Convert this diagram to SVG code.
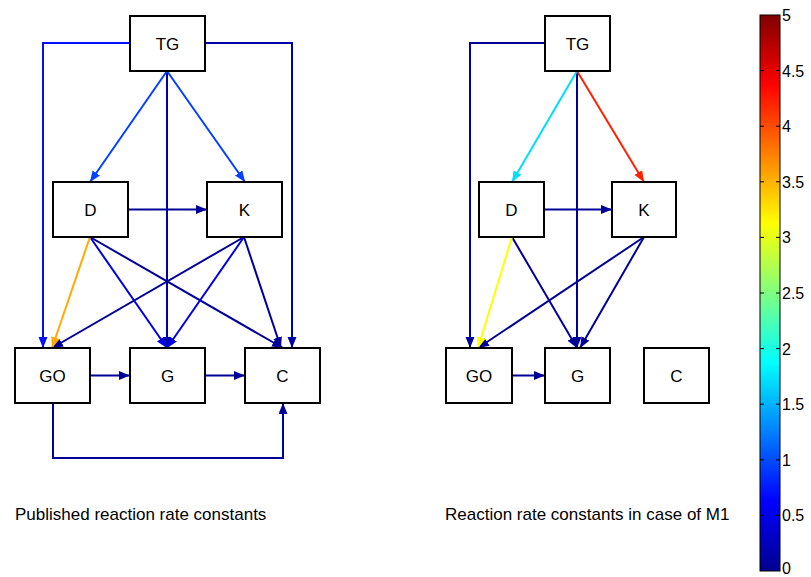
<svg xmlns="http://www.w3.org/2000/svg" width="811" height="577" viewBox="0 0 811 577">
  <style>
    .box { fill: #ffffff; stroke: #000000; stroke-width: 2; }
    .lbl { font-family: "Liberation Sans", Arial, sans-serif; font-size: 17px; fill: #000000; text-anchor: middle; }
    .cap { font-family: "Liberation Sans", Arial, sans-serif; font-size: 17px; fill: #000000; }
    .tick { font-family: "Liberation Sans", Arial, sans-serif; font-size: 16px; fill: #000000; }
    .c { fill: none; stroke-width: 2; }
    .dk { stroke: #000099; }
    .md { stroke: #0000e0; }
    .br { stroke: #0040ff; }
    .bb { stroke: #0010ff; }
    .dv { stroke: #0000a8; }
    .or { stroke: #ffaa00; }
    .ye { stroke: #ffff00; }
    .cy { stroke: #00ddff; }
    .rd { stroke: #ff2000; }
  </style>
  <defs>
    <marker id="a-dk" markerUnits="userSpaceOnUse" markerWidth="12" markerHeight="10" refX="11" refY="4.5" orient="auto"><path d="M0,0 L11,4.5 L0,9 z" fill="#000099"/></marker>
    <marker id="a-md" markerUnits="userSpaceOnUse" markerWidth="12" markerHeight="10" refX="11" refY="4.5" orient="auto"><path d="M0,0 L11,4.5 L0,9 z" fill="#0000e0"/></marker>
    <marker id="a-br" markerUnits="userSpaceOnUse" markerWidth="12" markerHeight="10" refX="11" refY="4.5" orient="auto"><path d="M0,0 L11,4.5 L0,9 z" fill="#0040ff"/></marker>
    <marker id="a-bb" markerUnits="userSpaceOnUse" markerWidth="12" markerHeight="10" refX="11" refY="4.5" orient="auto"><path d="M0,0 L11,4.5 L0,9 z" fill="#0010ff"/></marker>
    <marker id="a-dv" markerUnits="userSpaceOnUse" markerWidth="12" markerHeight="10" refX="11" refY="4.5" orient="auto"><path d="M0,0 L11,4.5 L0,9 z" fill="#0000a8"/></marker>
    <marker id="a-or" markerUnits="userSpaceOnUse" markerWidth="12" markerHeight="10" refX="11" refY="4.5" orient="auto"><path d="M0,0 L11,4.5 L0,9 z" fill="#ffaa00"/></marker>
    <marker id="a-ye" markerUnits="userSpaceOnUse" markerWidth="12" markerHeight="10" refX="11" refY="4.5" orient="auto"><path d="M0,0 L11,4.5 L0,9 z" fill="#ffff00"/></marker>
    <marker id="a-cy" markerUnits="userSpaceOnUse" markerWidth="12" markerHeight="10" refX="11" refY="4.5" orient="auto"><path d="M0,0 L11,4.5 L0,9 z" fill="#00ddff"/></marker>
    <marker id="a-rd" markerUnits="userSpaceOnUse" markerWidth="12" markerHeight="10" refX="11" refY="4.5" orient="auto"><path d="M0,0 L11,4.5 L0,9 z" fill="#ff2000"/></marker>
    <linearGradient id="jet" x1="0" y1="1" x2="0" y2="0">
      <stop offset="0" stop-color="#00008f"/>
      <stop offset="0.125" stop-color="#0000ff"/>
      <stop offset="0.375" stop-color="#00ffff"/>
      <stop offset="0.625" stop-color="#ffff00"/>
      <stop offset="0.875" stop-color="#ff0000"/>
      <stop offset="1" stop-color="#800000"/>
    </linearGradient>
  </defs>

  <!-- connectors: published constants -->
  <g id="connectors-left">
    <path class="c bb" d="M130,43 H43 V348" marker-end="url(#a-bb)"/>
    <path class="c dv" d="M205,43 H292 V348" marker-end="url(#a-dv)"/>
    <path class="c dv" d="M167,71 V348" marker-end="url(#a-dv)"/>
    <path class="c br" d="M167,71 L90,182" marker-end="url(#a-br)"/>
    <path class="c br" d="M167,71 L245,182" marker-end="url(#a-br)"/>
    <path class="c dk" d="M128,209.5 H207" marker-end="url(#a-dk)"/>
    <path class="c dk" d="M90,237 L283,348" marker-end="url(#a-dk)"/>
    <path class="c dk" d="M244,237 L52,348" marker-end="url(#a-dk)"/>
    <path class="c dk" d="M244,237 L281,348" marker-end="url(#a-dk)"/>
    <path class="c md" d="M90,237 L167,348" marker-end="url(#a-md)"/>
    <path class="c md" d="M244,237 L167,348" marker-end="url(#a-md)"/>
    <path class="c or" d="M90,237 L52,348" marker-end="url(#a-or)"/>
    <path class="c dk" d="M90,375.5 H130" marker-end="url(#a-dk)"/>
    <path class="c dk" d="M205,375.5 H245" marker-end="url(#a-dk)"/>
    <path class="c dk" d="M53,403 V458 H283 V403" marker-end="url(#a-dk)"/>
  </g>

  <!-- connectors: model M1 -->
  <g id="connectors-right">
    <path class="c dk" d="M545,43 H470 V348" marker-end="url(#a-dk)"/>
    <path class="c dk" d="M577,71 V348" marker-end="url(#a-dk)"/>
    <path class="c cy" d="M577,71 L512,182" marker-end="url(#a-cy)"/>
    <path class="c rd" d="M577,71 L644,182" marker-end="url(#a-rd)"/>
    <path class="c dk" d="M544,209.5 H612" marker-end="url(#a-dk)"/>
    <path class="c dk" d="M512,237 L577,348" marker-end="url(#a-dk)"/>
    <path class="c dk" d="M644,237 L478,348" marker-end="url(#a-dk)"/>
    <path class="c dk" d="M644,237 L580,348" marker-end="url(#a-dk)"/>
    <path class="c ye" d="M512,237 L478,348" marker-end="url(#a-ye)"/>
    <path class="c dk" d="M512,375.5 H545" marker-end="url(#a-dk)"/>
  </g>

  <!-- nodes: published constants -->
  <g id="L-TG"><rect class="box" x="130" y="16" width="75" height="55"/><text class="lbl" x="167.5" y="49.5">TG</text></g>
  <g id="L-D"><rect class="box" x="53" y="182" width="75" height="55"/><text class="lbl" x="90.5" y="215.5">D</text></g>
  <g id="L-K"><rect class="box" x="207" y="182" width="75" height="55"/><text class="lbl" x="244.5" y="215.5">K</text></g>
  <g id="L-GO"><rect class="box" x="15" y="348" width="75" height="55"/><text class="lbl" x="52.5" y="381.5">GO</text></g>
  <g id="L-G"><rect class="box" x="130" y="348" width="75" height="55"/><text class="lbl" x="167.5" y="381.5">G</text></g>
  <g id="L-C"><rect class="box" x="245" y="348" width="75" height="55"/><text class="lbl" x="282.5" y="381.5">C</text></g>

  <!-- nodes: model M1 -->
  <g id="R-TG"><rect class="box" x="545" y="16" width="65" height="55"/><text class="lbl" x="577.5" y="49.5">TG</text></g>
  <g id="R-D"><rect class="box" x="479" y="182" width="65" height="55"/><text class="lbl" x="511.5" y="215.5">D</text></g>
  <g id="R-K"><rect class="box" x="612" y="182" width="64" height="55"/><text class="lbl" x="644" y="215.5">K</text></g>
  <g id="R-GO"><rect class="box" x="446" y="348" width="66" height="55"/><text class="lbl" x="479" y="381.5">GO</text></g>
  <g id="R-G"><rect class="box" x="545" y="348" width="65" height="55"/><text class="lbl" x="577.5" y="381.5">G</text></g>
  <g id="R-C"><rect class="box" x="644" y="348" width="65" height="55"/><text class="lbl" x="676.5" y="381.5">C</text></g>

  <!-- captions -->
  <text class="cap" x="15" y="520">Published reaction rate constants</text>
  <text class="cap" x="445" y="520">Reaction rate constants in case of M1</text>

  <!-- colour bar -->
  <g id="colorbar">
    <rect x="760" y="15" width="20" height="556" fill="url(#jet)" stroke="#000000" stroke-width="1"/>
    <g stroke="#000000" stroke-width="1">
      <path d="M760,70.6 h4 M776,70.6 h4 M760,126.2 h4 M776,126.2 h4 M760,181.8 h4 M776,181.8 h4 M760,237.4 h4 M776,237.4 h4 M760,293 h4 M776,293 h4 M760,348.6 h4 M776,348.6 h4 M760,404.2 h4 M776,404.2 h4 M760,459.8 h4 M776,459.8 h4 M760,515.4 h4 M776,515.4 h4"/>
    </g>
    <text class="tick" x="782" y="21">5</text>
    <text class="tick" x="782" y="76.6">4.5</text>
    <text class="tick" x="782" y="132.2">4</text>
    <text class="tick" x="782" y="187.8">3.5</text>
    <text class="tick" x="782" y="243.4">3</text>
    <text class="tick" x="782" y="299">2.5</text>
    <text class="tick" x="782" y="354.6">2</text>
    <text class="tick" x="782" y="410.2">1.5</text>
    <text class="tick" x="782" y="465.8">1</text>
    <text class="tick" x="782" y="521.4">0.5</text>
    <text class="tick" x="782" y="574">0</text>
  </g>
</svg>
